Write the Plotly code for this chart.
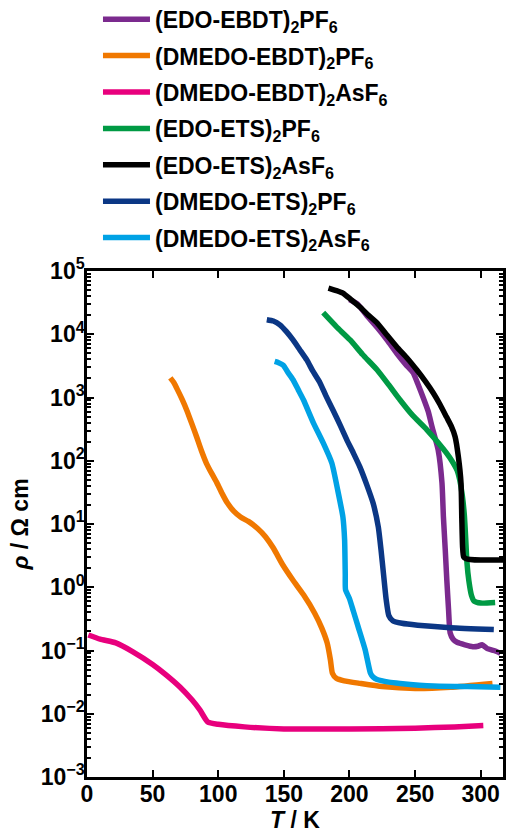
import plotly.graph_objects as go

# ---------------- data ----------------
names = [
    "(EDO-EBDT)<sub>2</sub>PF<sub>6</sub>",
    "(DMEDO-EBDT)<sub>2</sub>PF<sub>6</sub>",
    "(DMEDO-EBDT)<sub>2</sub>AsF<sub>6</sub>",
    "(EDO-ETS)<sub>2</sub>PF<sub>6</sub>",
    "(EDO-ETS)<sub>2</sub>AsF<sub>6</sub>",
    "(DMEDO-ETS)<sub>2</sub>PF<sub>6</sub>",
    "(DMEDO-ETS)<sub>2</sub>AsF<sub>6</sub>",
]
colors = ["#7B2A8E", "#F07800", "#E8007D", "#009A44", "#000000", "#0B3785", "#00A2E5"]

T_edo_ebdt_pf6 = [200, 206, 213, 221, 229, 236, 243, 248.6, 252, 256, 260, 263, 267.6, 270.5, 271.6, 273,
                  274.2, 275.5, 276.7, 279, 282, 288, 294, 298, 301, 305, 310, 315]
R_edo_ebdt_pf6 = [35500, 30200, 20000, 12900, 7940, 5010, 3310, 2450, 1660, 1020, 603, 339, 148, 44.7, 12.9, 3.89,
                  1.29, 0.447, 0.191, 0.151, 0.135, 0.123, 0.115, 0.117, 0.123, 0.107, 0.100, 0.091]

T_dmedo_ebdt_pf6 = [63.5, 66, 69, 72.5, 76, 80, 83.5, 87, 91, 95, 99, 103, 107, 112, 117, 123, 130, 136, 142,
                    149, 157, 165, 173.5, 179, 183, 185.5, 187, 190, 196, 208, 225, 250, 277, 309]
R_dmedo_ebdt_pf6 = [2040, 1740, 1320, 933, 631, 380, 240, 148, 91.2, 63.1, 44.7, 30.2, 21.4, 15.8, 12.9, 11.0,
                    8.51, 6.31, 4.17, 2.29, 1.29, 0.759, 0.389, 0.224, 0.132, 0.0708, 0.0437, 0.0363, 0.0331,
                    0.0302, 0.0269, 0.0251, 0.0263, 0.0302]

T_dmedo_ebdt_asf6 = [1, 10, 22, 35, 50, 60, 71, 80, 86, 92, 100, 120, 150, 200, 250, 280, 302]
R_dmedo_ebdt_asf6 = [0.176, 0.151, 0.132, 0.0955, 0.0603, 0.0417, 0.0263, 0.0166, 0.0115, 0.0074, 0.0068,
                     0.0062, 0.00575, 0.00575, 0.0059, 0.0062, 0.0065]

T_edo_ets_pf6 = [180, 190, 200.5, 210, 221, 230, 238.6, 248, 259, 267, 274, 278, 282, 284, 286, 287.5, 288.5,
                 289.5, 291, 293, 295, 300, 311]
R_edo_ets_pf6 = [21900, 13200, 8130, 4790, 2750, 1580, 912, 525, 309, 200, 132, 100, 70.8, 50.1, 28.2, 14.1,
                 6.31, 2.51, 1.26, 0.741, 0.603, 0.562, 0.575]

T_edo_ets_asf6 = [184, 190, 195, 201, 208, 214, 221, 228, 236, 244, 251.5, 258, 264, 269, 274, 277.5, 280.5,
                  283, 285, 285.6, 286.2, 287, 289, 292, 300, 310, 317]
R_edo_ets_asf6 = [53700, 49000, 44700, 35500, 26900, 20400, 15100, 10000, 6310, 4170, 2690, 1780, 1170, 776,
                  490, 355, 240, 115, 44.7, 12.6, 4.37, 3.02, 2.82, 2.75, 2.69, 2.69, 2.69]

T_dmedo_ets_pf6 = [137, 142, 147, 152, 157, 162, 167.6, 172, 177.6, 182, 187.5, 193, 198, 203, 208, 213, 218,
                   222, 224, 226, 228, 230, 233, 240, 252, 277, 310]
R_dmedo_ets_pf6 = [17000, 16200, 14100, 11000, 8130, 5750, 3890, 2630, 1700, 1070, 631, 363, 214, 132, 79.4,
                   42.7, 21.4, 8.91, 3.98, 1.58, 0.631, 0.355, 0.295, 0.269, 0.251, 0.229, 0.214]

T_dmedo_ets_asf6 = [143, 146, 149.6, 153, 157, 161, 165, 172.5, 180, 186.6, 191, 195, 196.3, 196.8, 197, 200,
                    203, 206.7, 212, 216, 218, 221, 230, 238.6, 264, 290, 315]
R_dmedo_ets_asf6 = [3720, 3550, 3240, 2510, 1910, 1320, 912, 398, 191, 91.2, 34.7, 12.9, 5.62, 1.58, 0.912,
                    0.661, 0.417, 0.234, 0.102, 0.0437, 0.038, 0.0347, 0.0316, 0.0302, 0.0275, 0.0269, 0.0263]

series_T = [T_edo_ebdt_pf6, T_dmedo_ebdt_pf6, T_dmedo_ebdt_asf6, T_edo_ets_pf6,
            T_edo_ets_asf6, T_dmedo_ets_pf6, T_dmedo_ets_asf6]
series_R = [R_edo_ebdt_pf6, R_dmedo_ebdt_pf6, R_dmedo_ebdt_asf6, R_edo_ets_pf6,
            R_edo_ets_asf6, R_dmedo_ets_pf6, R_dmedo_ets_asf6]

x_ticks = [0, 50, 100, 150, 200, 250, 300]
y_ticks = [1e-3, 1e-2, 1e-1, 1e0, 1e1, 1e2, 1e3, 1e4, 1e5]
y_ticktext = ["10<sup>−3</sup>", "10<sup>−2</sup>", "10<sup>−1</sup>", "10<sup>0</sup>", "10<sup>1</sup>",
              "10<sup>2</sup>", "10<sup>3</sup>", "10<sup>4</sup>", "10<sup>5</sup>"]

# ---------------- figure ----------------
FONT = "Liberation Sans, Arial, Helvetica, sans-serif"
fig = go.Figure()
for i, (nm, c, tt, rr) in enumerate(zip(names, colors, series_T, series_R)):
    fig.add_trace(go.Scatter(x=tt, y=rr, mode="lines", name=nm, legendgroup=f"g{i}",
                             line=dict(color=c, width=5.5, shape="spline", smoothing=0.5)))

minor_vals = [m * 10 ** e for e in range(-3, 5) for m in range(2, 10)]

fig.update_layout(
    width=509, height=838,
    paper_bgcolor="white", plot_bgcolor="white",
    margin=dict(l=87, r=6, t=271, b=61, autoexpand=False),
    font=dict(family=FONT, size=23, color="black", weight="bold"),
    showlegend=True,
    legend=dict(x=0.0264, y=1.540, xanchor="left", yanchor="top", itemwidth=47,
                tracegroupgap=3.5, font=dict(family=FONT, size=23, color="black", weight="bold"),
                bgcolor="rgba(0,0,0,0)", borderwidth=0),
    xaxis=dict(range=[0, 317], tickmode="array", tickvals=x_ticks, ticks="inside", ticklen=7,
               tickwidth=2, tickcolor="black", showline=True, linewidth=2.5, linecolor="black",
               mirror="ticks", showgrid=False, zeroline=False, ticklabelstandoff=-5,
               tickfont=dict(family=FONT, size=23, weight="bold"),
               title=dict(text="<i>T</i> / K", standoff=6, font=dict(family=FONT, size=23, weight="bold"))),
    yaxis=dict(type="log", range=[-3, 5], tickmode="array", tickvals=y_ticks, ticktext=y_ticktext,
               ticks="inside", ticklen=7, tickwidth=2, tickcolor="black", showline=True, linewidth=2.5,
               linecolor="black", mirror="ticks", showgrid=False, zeroline=False, ticklabelstandoff=-5,
               minor=dict(tickmode="array", tickvals=minor_vals, ticks="inside", ticklen=4, tickwidth=1.5,
                          tickcolor="black", showgrid=False),
               tickfont=dict(family=FONT, size=23, weight="bold"),
               title=dict(text="<i>ρ</i> / Ω cm", standoff=6, font=dict(family=FONT, size=23, weight="bold"))),
)

fig.write_html("out.html", config={"displayModeBar": False},
               post_script="document.body.style.margin='0px';")
